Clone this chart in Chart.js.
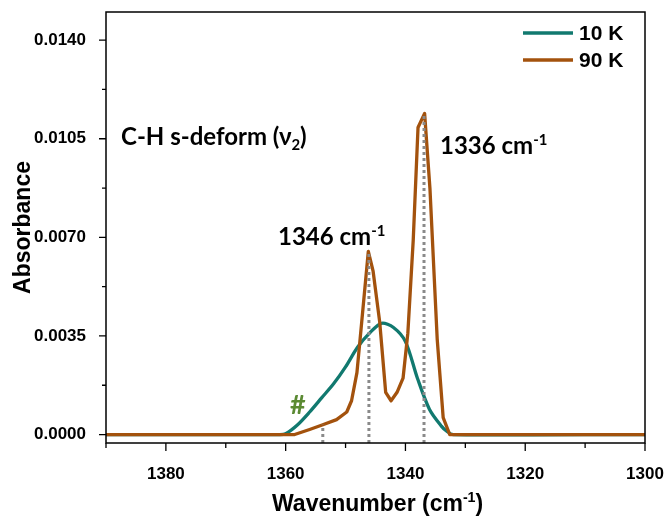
<!DOCTYPE html>
<html>
<head>
<meta charset="utf-8">
<script src="https://cdn.jsdelivr.net/npm/chart.js@4.4.0/dist/chart.umd.min.js"></script>
<style>
  html, body { margin: 0; padding: 0; background: #fff; }
  #wrap { width: 668px; height: 517px; }
</style>
</head>
<body>
<div id="wrap"><canvas id="absChart" width="668" height="517"></canvas></div>
<script>
// spectra (wavenumber in cm-1, absorbance)
const wn10K = [1390, 1361, 1360, 1358, 1356, 1354, 1352, 1350, 1348, 1346, 1344, 1342, 1340, 1338, 1336, 1334, 1333, 1332, 1300];
const abs10K = [0, 0, 0.00003, 0.00035, 0.0008, 0.0013, 0.0018, 0.0024, 0.0031, 0.0036, 0.00395, 0.0038, 0.0033, 0.0020, 0.0009, 0.0003, 0.0001, 0, 0];

const wn90K = [1390, 1358.5, 1356, 1353.8, 1351.5, 1349.8, 1349, 1348.1, 1347.3, 1346.2, 1345.4, 1344.3, 1343.3, 1342.4, 1341.4, 1340.4, 1339.6, 1338.7, 1337.9, 1336.8, 1335.9, 1334.7, 1333.7, 1332.6, 1300];
const abs90K = [0, 0, 0.00018, 0.00035, 0.00053, 0.0008, 0.0012, 0.0022, 0.0040, 0.0065, 0.0058, 0.0040, 0.0015, 0.0012, 0.0015, 0.0020, 0.0036, 0.0069, 0.0109, 0.0114, 0.0087, 0.0034, 0.0006, 0, 0];

// dotted markers under the peaks
const markWn = [1353.8, 1346.1, 1336.9];
const markTop = [0.00035, 0.0065, 0.0114];

const yTicks = [0, 0.0035, 0.0070, 0.0105, 0.0140];
const yMinor = [0.00175, 0.00525, 0.00875, 0.01225];
const xTicks = [1380, 1360, 1340, 1320, 1300];
const xMinor = [1390, 1370, 1350, 1330, 1310];

const yMin = -0.0003, yMax = 0.015;

const teal = '#11796f';
const brown = '#a3520d';

const toPts = (xs, ys) => xs.map((x, i) => ({ x: x, y: ys[i] }));

const datasets = [
    { label: '10 K', data: toPts(wn10K, abs10K), borderColor: teal, borderWidth: 3.3, pointRadius: 0, tension: 0.3, borderJoinStyle: 'round', order: 2 },
    { label: '90 K', data: toPts(wn90K, abs90K), borderColor: brown, borderWidth: 3.3, pointRadius: 0, tension: 0, borderJoinStyle: 'round', order: 1 }
];
markWn.forEach((w, i) => {
    datasets.push({
        label: 'mark' + i,
        data: [{ x: w, y: yMin }, { x: w, y: markTop[i] }],
        borderColor: '#8a8a8a', borderWidth: 3, borderDash: [3, 3], pointRadius: 0, order: 0
    });
});

const FONT = '"Liberation Sans", Arial, sans-serif';
const ANNO = 'Lato, "Open Sans", sans-serif';

// text with a superscript / subscript part
function richText(ctx, x, y, parts, size, family) {
    let cx = x;
    parts.forEach(p => {
        let s = size, dy = 0;
        if (p.sup) { s = size * 0.62; dy = -size * 0.38; }
        if (p.sub) { s = size * 0.62; dy = size * 0.22; }
        ctx.font = 'bold ' + s + 'px ' + family;
        ctx.fillText(p.t, cx, y + dy);
        cx += ctx.measureText(p.t).width;
    });
    return cx - x;
}

const decor = {
    id: 'decor',
    afterDatasetsDraw(chart) {
        const { ctx, chartArea: a, scales: { x, y } } = chart;
        ctx.save();
        // frame
        ctx.strokeStyle = '#000';
        ctx.lineWidth = 1.5;
        ctx.strokeRect(a.left, a.top, a.right - a.left, a.bottom - a.top);
        // ticks
        ctx.lineWidth = 1.3;
        ctx.beginPath();
        yTicks.forEach(v => { const p = y.getPixelForValue(v); ctx.moveTo(a.left - 7, p); ctx.lineTo(a.left, p); });
        yMinor.forEach(v => { const p = y.getPixelForValue(v); ctx.moveTo(a.left - 4, p); ctx.lineTo(a.left, p); });
        xTicks.forEach(v => { const p = x.getPixelForValue(v); ctx.moveTo(p, a.bottom); ctx.lineTo(p, a.bottom + 8); });
        xMinor.forEach(v => { const p = x.getPixelForValue(v); ctx.moveTo(p, a.bottom); ctx.lineTo(p, a.bottom + 5); });
        ctx.stroke();

        // legend
        ctx.lineWidth = 3.3;
        [[teal, '10 K', 33], [brown, '90 K', 60]].forEach(([c, t, ly]) => {
            ctx.strokeStyle = c;
            ctx.beginPath(); ctx.moveTo(523, ly); ctx.lineTo(573, ly); ctx.stroke();
            ctx.fillStyle = '#000';
            ctx.font = 'bold 21px ' + FONT;
            ctx.textBaseline = 'middle';
            ctx.fillText(t, 579, ly + 1);
        });

        // annotations
        ctx.textBaseline = 'alphabetic';
        ctx.fillStyle = '#000';
        richText(ctx, 121, 145, [{ t: 'C-H s-deform (ν' }, { t: '2', sub: true }, { t: ')' }], 24, ANNO);
        richText(ctx, 278, 245, [{ t: '1346 cm' }, { t: '-1', sup: true }], 24, ANNO);
        richText(ctx, 440, 154, [{ t: '1336 cm' }, { t: '-1', sup: true }], 24, ANNO);
        ctx.fillStyle = '#5b8a33';
        ctx.font = 'bold 27px ' + ANNO;
        ctx.fillText('#', 290, 414);

        // x axis title
        ctx.fillStyle = '#000';
        ctx.font = 'bold 23px ' + FONT;
        const w1 = ctx.measureText('Wavenumber (cm').width + ctx.measureText(')').width;
        ctx.font = 'bold 14px ' + FONT;
        const w2 = ctx.measureText('-1').width;
        const sx = (a.left + a.right) / 2 - (w1 + w2) / 2 + 2;
        richText(ctx, sx, 511, [{ t: 'Wavenumber (cm' }, { t: '-1', sup: true }, { t: ')' }], 23, FONT);
        ctx.restore();
    }
};

new Chart(document.getElementById('absChart'), {
    type: 'line',
    data: { datasets: datasets },
    options: {
        responsive: false,
        animation: false,
        events: [],
        layout: { padding: { left: 0, right: 23, top: 12, bottom: 0 } },
        plugins: { legend: { display: false }, tooltip: { enabled: false } },
        scales: {
            x: {
                type: 'linear', reverse: true, min: 1300, max: 1390,
                grid: { display: false },
                border: { display: false },
                afterBuildTicks: s => { s.ticks = xTicks.map(v => ({ value: v })); },
                afterFit: s => { s.height = 74; s.paddingLeft = 0; s.paddingRight = 0; },
                ticks: { padding: 13, color: '#000', font: { family: FONT, size: 17, weight: 'bold' }, maxRotation: 0, callback: v => String(v) }
            },
            y: {
                min: yMin, max: yMax,
                grid: { display: false },
                border: { display: false },
                afterBuildTicks: s => { s.ticks = yTicks.map(v => ({ value: v })); },
                afterFit: s => { s.width = 106; s.paddingTop = 0; s.paddingBottom = 0; },
                ticks: { padding: 12, color: '#000', font: { family: FONT, size: 17, weight: 'bold' }, callback: v => v.toFixed(4) },
                title: { display: true, text: 'Absorbance', color: '#000', font: { family: FONT, size: 23, weight: 'bold' }, padding: { top: 10, bottom: 0 } }
            }
        }
    },
    plugins: [decor]
});
</script>
</body>
</html>
